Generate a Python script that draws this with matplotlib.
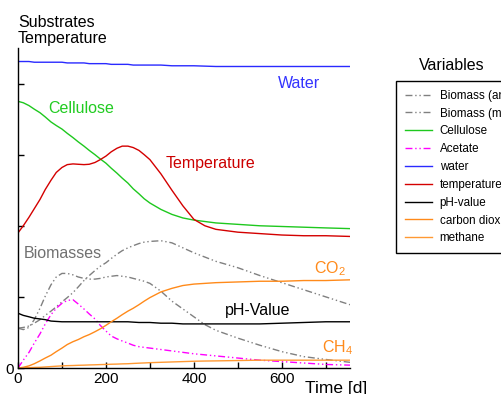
import matplotlib
matplotlib.use("Agg")
import matplotlib.pyplot as plt

plt.rcParams['font.family'] = ['Liberation Sans', 'DejaVu Sans']
plt.rcParams['mathtext.fontset'] = 'custom'
plt.rcParams['mathtext.rm'] = 'Liberation Sans'
plt.rcParams['lines.scale_dashes'] = False

# ---- data (x in days, y in axis units) ----
days = [0, 12, 25, 37, 50, 62, 75, 87, 100, 112, 125, 137, 150, 162, 175, 187,
        200, 212, 225, 237, 250, 262, 275, 287, 300, 325, 350, 375, 400, 425,
        450, 500, 550, 600, 650, 700, 755]
water = [4.31, 4.31, 4.31, 4.30, 4.30, 4.30, 4.30, 4.30, 4.30, 4.29, 4.29, 4.29,
         4.29, 4.28, 4.28, 4.28, 4.28, 4.27, 4.27, 4.27, 4.27, 4.26, 4.26, 4.26,
         4.26, 4.26, 4.25, 4.25, 4.25, 4.245, 4.24, 4.24, 4.24, 4.24, 4.24, 4.24, 4.24]
cellulose = [3.75, 3.73, 3.69, 3.64, 3.59, 3.53, 3.46, 3.41, 3.36, 3.30, 3.24, 3.18,
             3.12, 3.06, 3.00, 2.94, 2.88, 2.81, 2.74, 2.67, 2.60, 2.52, 2.45, 2.38,
             2.32, 2.23, 2.16, 2.11, 2.08, 2.06, 2.04, 2.02, 2.00, 1.99, 1.98, 1.97, 1.96]
temperature = [1.90, 2.00, 2.12, 2.24, 2.37, 2.51, 2.64, 2.75, 2.82, 2.86, 2.87, 2.865,
               2.86, 2.865, 2.89, 2.93, 2.98, 3.04, 3.09, 3.12, 3.12, 3.10, 3.06, 3.00,
               2.93, 2.73, 2.50, 2.28, 2.09, 2.00, 1.95, 1.91, 1.89, 1.87, 1.86, 1.86, 1.85]
biomass_an = [0.56, 0.54, 0.57, 0.68, 0.84, 1.01, 1.17, 1.28, 1.33, 1.33, 1.31, 1.28,
              1.26, 1.25, 1.25, 1.26, 1.28, 1.29, 1.30, 1.29, 1.28, 1.26, 1.24, 1.22,
              1.19, 1.08, 0.94, 0.83, 0.72, 0.61, 0.53, 0.42, 0.32, 0.23, 0.16, 0.12, 0.08]
biomass_m = [0.56, 0.57, 0.59, 0.63, 0.68, 0.74, 0.80, 0.86, 0.93, 0.99, 1.06, 1.14,
             1.23, 1.30, 1.37, 1.43, 1.48, 1.54, 1.60, 1.65, 1.69, 1.72, 1.75, 1.77,
             1.78, 1.79, 1.76, 1.69, 1.62, 1.56, 1.50, 1.41, 1.30, 1.20, 1.10, 1.00, 0.89]
acetate = [0.0, 0.11, 0.22, 0.35, 0.48, 0.62, 0.75, 0.84, 0.91, 0.95, 0.96, 0.90,
           0.83, 0.76, 0.69, 0.60, 0.52, 0.45, 0.41, 0.38, 0.35, 0.32, 0.30, 0.29,
           0.28, 0.26, 0.24, 0.22, 0.20, 0.185, 0.17, 0.14, 0.11, 0.09, 0.07, 0.05, 0.04]
co2 = [0.0, 0.01, 0.03, 0.06, 0.10, 0.14, 0.18, 0.23, 0.28, 0.33, 0.37, 0.40,
       0.44, 0.47, 0.51, 0.55, 0.60, 0.65, 0.70, 0.75, 0.80, 0.84, 0.89, 0.94,
       0.99, 1.07, 1.12, 1.16, 1.18, 1.19, 1.20, 1.21, 1.22, 1.22, 1.23, 1.23, 1.24]
ph = [0.77, 0.74, 0.72, 0.70, 0.69, 0.68, 0.66, 0.655, 0.65, 0.65, 0.65, 0.65,
      0.65, 0.65, 0.65, 0.65, 0.65, 0.65, 0.65, 0.65, 0.65, 0.645, 0.64, 0.64,
      0.64, 0.63, 0.63, 0.62, 0.62, 0.62, 0.62, 0.62, 0.62, 0.63, 0.64, 0.65, 0.65]
methane = [0.0, 0.002, 0.005, 0.008, 0.01, 0.015, 0.02, 0.025, 0.03, 0.033, 0.035, 0.038,
           0.04, 0.043, 0.045, 0.048, 0.05, 0.053, 0.055, 0.058, 0.06, 0.064, 0.068, 0.071,
           0.075, 0.08, 0.085, 0.09, 0.095, 0.098, 0.10, 0.105, 0.11, 0.11, 0.11, 0.11, 0.11]

x_ticks = [0, 100, 200, 300, 400, 500, 600, 700]
x_ticklabels = ['0', '', '200', '', '400', '', '600', '']
y_ticks = [0, 1, 2, 3, 4]
y_ticklabels = ['0', '', '', '', '']

legend_labels = ['Biomass (anaerobic)', 'Biomass (methanogenic)', 'Cellulose', 'Acetate',
                 'water', 'temperature', 'pH-value', 'carbon dioxide', 'methane']

W, H = 502, 394
fig = plt.figure(figsize=(W / 100, H / 100), dpi=100)

def fx(px):
    return px / W

def fy(py):
    return 1 - py / H

ax = fig.add_axes([fx(18), fy(368), (350 - 18) / W, (368 - 48) / H])
ax.set_xlim(0, 755)
ax.set_ylim(0, 4.5)

dd = (0, (5, 2, 1, 2, 1, 2))
lw = 1.0
gray = '#808080'
kw = dict(lw=lw, solid_joinstyle='round', dash_joinstyle='round')
l_ban, = ax.plot(days, biomass_an, color=gray, ls=dd, **kw)
l_bm, = ax.plot(days, biomass_m, color=gray, ls=dd, **kw)
l_cel, = ax.plot(days, cellulose, color='#1ec81e', **kw)
l_ac, = ax.plot(days, acetate, color='#ff00ff', ls=dd, **kw)
l_w, = ax.plot(days, water, color='#2a2aff', **kw)
l_t, = ax.plot(days, temperature, color='#d40000', **kw)
l_ph, = ax.plot(days, ph, color='black', **kw)
l_co2, = ax.plot(days, co2, color='#ff8a1a', **kw)
l_ch4, = ax.plot(days, methane, color='#ff9933', **kw)

for s in ['top', 'right']:
    ax.spines[s].set_visible(False)
for s in ['left', 'bottom']:
    ax.spines[s].set_linewidth(1.0)

ax.set_xticks(x_ticks)
ax.set_xticklabels(x_ticklabels)
ax.set_yticks(y_ticks)
ax.set_yticklabels(y_ticklabels)
ax.tick_params(direction='in', length=4, width=1.0, labelsize=11, pad=3)

# axis titles
fig.text(fx(18), fy(27), 'Substrates', fontsize=11.5, va='baseline', ha='left')
fig.text(fx(18), fy(43), 'Temperature', fontsize=11.5, va='baseline', ha='left')
fig.text(fx(305), fy(393), 'Time [d]', fontsize=12.5, va='baseline', ha='left')

# curve labels
fs = 11.5
fig.text(fx(278), fy(88), 'Water', color='#3333ff', fontsize=fs, va='baseline')
fig.text(fx(48), fy(113), 'Cellulose', color='#22cc22', fontsize=fs, va='baseline')
fig.text(fx(166), fy(168), 'Temperature', color='#cc0000', fontsize=fs, va='baseline')
fig.text(fx(24), fy(258), 'Biomasses', color='#707070', fontsize=fs, va='baseline')
fig.text(fx(225), fy(315), 'pH-Value', color='black', fontsize=fs, va='baseline')
fig.text(fx(314), fy(273), 'CO$_2$', color='#ff8a1a', fontsize=fs, va='baseline')
fig.text(fx(322), fy(352), 'CH$_4$', color='#ff8a1a', fontsize=fs, va='baseline')

# legend
fig.text(fx(452), fy(70), 'Variables', fontsize=11.5, va='baseline', ha='center')
leg = fig.legend([l_ban, l_bm, l_cel, l_ac, l_w, l_t, l_ph, l_co2, l_ch4], legend_labels,
                 loc='upper left', bbox_to_anchor=(fx(396), fy(81)), borderaxespad=0,
                 fontsize=8.4, frameon=True, fancybox=False, framealpha=1,
                 edgecolor='black', handlelength=2.3, handletextpad=0.7,
                 borderpad=0.75, labelspacing=0.5)
leg.get_frame().set_linewidth(1.0)

fig.savefig('out.png', dpi=100)
